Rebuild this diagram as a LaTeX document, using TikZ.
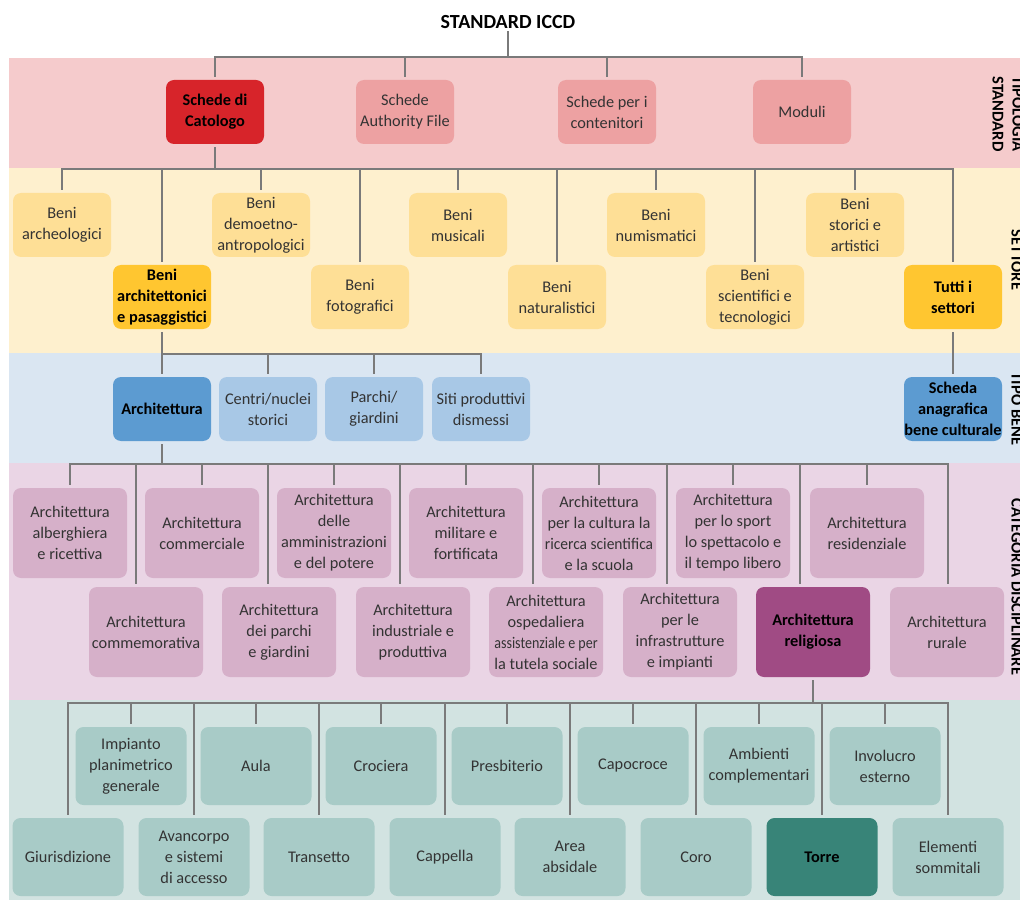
\documentclass[tikz,border=0pt]{standalone}
\usepackage{fontspec}
\setmainfont{Carlito}
\usepackage{graphicx}
\usepackage{tikz}
\definecolor{ICCDLine}{HTML}{7A7A7A}
\definecolor{TipBand}{HTML}{F5CBCC}
\definecolor{TipBox}{HTML}{EDA1A2}
\definecolor{TipKey}{HTML}{D7242A}
\definecolor{SetBand}{HTML}{FEF0CE}
\definecolor{SetBox}{HTML}{FEDF96}
\definecolor{SetKey}{HTML}{FFC630}
\definecolor{BenBand}{HTML}{DAE6F2}
\definecolor{BenBox}{HTML}{A8C8E6}
\definecolor{BenKey}{HTML}{5C9BD1}
\definecolor{CatBand}{HTML}{EAD5E5}
\definecolor{CatBox}{HTML}{D6B0C9}
\definecolor{CatKey}{HTML}{A04B84}
\definecolor{ElmBand}{HTML}{D2E3E1}
\definecolor{ElmBox}{HTML}{A8CBC7}
\definecolor{ElmKey}{HTML}{388478}

\begin{document}
\begin{tikzpicture}[x=1pt,y=-1pt,
  box/.style={rounded corners=8pt,align=center,inner sep=0pt,
    font=\fontsize{16.3}{21}\selectfont,text=black!80},
  key/.style={font=\fontsize{16.3}{21}\selectfont\bfseries,text=black},
  small/.style={box,minimum width=98pt,minimum height=64pt},
  wide/.style={box,minimum width=114pt,minimum height=90pt},
  leaf/.style={box,minimum width=111pt,minimum height=78pt},
  conn/.style={draw=ICCDLine,line width=2.2pt,line cap=rect},
  drop/.style={conn,shorten >=4pt},
  rise/.style={conn,shorten <=4pt},
  side/.style={rotate=-90,align=center,text=black,
    font=\fontsize{16.5}{20}\selectfont\bfseries}]
  \useasboundingbox (0,0) rectangle (1020,901);
  \clip (0,0) rectangle (1020,901);

  % bands
  \fill[TipBand] (9,58) rectangle (1020,168);
  \fill[SetBand] (9,168) rectangle (1020,353);
  \fill[BenBand] (9,353) rectangle (1020,463);
  \fill[CatBand] (9,463) rectangle (1020,700);
  \fill[ElmBand] (9,700) rectangle (1020,900);

  \node[side] (lt) at (1008,114) {TIPOLOGIA\\STANDARD};
  \node[side] (ls) at (1017,260) {SETTORE};
  \node[side] (lb) at (1017,409) {TIPO BENE};
  \node[side] (lc) at (1017,587) {CATEGORIA DISCIPLINARE};

  \coordinate (b1) at (0,57);
  \coordinate (b2) at (0,169);
  \coordinate (b3) at (0,354);
  \coordinate (b4) at (0,464);
  \coordinate (b5) at (0,703);

  \node[font=\fontsize{20}{24}\selectfont\bfseries] (ttl) at (508,22) {STANDARD ICCD};

  % tipologia standard
  \node[small,key,fill=TipKey] (cat) at (215,112) {Schede di\\Catologo};
  \node[small,fill=TipBox] (aut) at (405,112) {Schede\\Authority File};
  \node[small,fill=TipBox] (cnt) at (607,112) {Schede per i\\contenitori};
  \node[small,fill=TipBox] (mod) at (802,112) {Moduli};

  \draw[conn] (ttl) -- (ttl |- b1);
  \draw[conn] (cat |- b1) -- (mod |- b1);
  \foreach \n in {cat,aut,cnt,mod}
    \draw[drop] (\n |- b1) -- (\n);

  % settore
  \node[small,fill=SetBox] (arc) at (62,225) {Beni\\archeologici};
  \node[small,fill=SetBox] (dem) at (261,225) {Beni\\demoetno-\\antropologici};
  \node[small,fill=SetBox] (mus) at (458,225) {Beni\\musicali};
  \node[small,fill=SetBox] (num) at (656,225) {Beni\\numismatici};
  \node[small,fill=SetBox] (sto) at (855,225) {Beni\\storici e\\artistici};
  \node[small,key,fill=SetKey] (bea) at (162,297) {Beni\\architettonici\\e pasaggistici};
  \node[small,fill=SetBox] (fot) at (360,297) {Beni\\fotografici};
  \node[small,fill=SetBox] (nat) at (557,297) {Beni\\naturalistici};
  \node[small,fill=SetBox] (sci) at (755,297) {Beni\\scientifici e\\tecnologici};
  \node[small,key,fill=SetKey] (tut) at (953,297) {Tutti i\\settori};

  \draw[rise] (cat) -- (cat |- b2);
  \draw[conn] (arc |- b2) -- (tut |- b2);
  \foreach \n in {arc,dem,mus,num,sto,bea,fot,nat,sci,tut}
    \draw[drop] (\n |- b2) -- (\n);

  % tipo bene
  \node[small,key,fill=BenKey] (arch) at (162,409) {Architettura};
  \node[small,fill=BenBox] (cen) at (268,409) {Centri/nuclei\\storici};
  \node[small,fill=BenBox] (par) at (374,409) {Parchi/\\giardini};
  \node[small,fill=BenBox] (sit) at (481,409) {Siti produttivi\\dismessi};
  \node[small,key,fill=BenKey] (sch) at (953,409) {Scheda\\anagrafica\\bene culturale};

  \draw[rise,drop] (bea) -- (arch);
  \draw[conn] (bea |- b3) -- (sit |- b3);
  \foreach \n in {cen,par,sit}
    \draw[drop] (\n |- b3) -- (\n);
  \draw[rise,drop] (tut) -- (sch);

  % categoria disciplinare
  \node[wide,fill=CatBox] (alb) at (70,533) {Architettura\\alberghiera\\e ricettiva};
  \node[wide,fill=CatBox] (cmm) at (202,533) {Architettura\\commerciale};
  \node[wide,fill=CatBox] (amm) at (334,533) {Architettura\\delle\\amministrazioni\\e del potere};
  \node[wide,fill=CatBox] (mil) at (466,533) {Architettura\\militare e\\fortificata};
  \node[wide,fill=CatBox] (cul) at (599,533) {Architettura\\per la cultura la\\\scalebox{0.95}[1]{ricerca scientifica}\\e la scuola};
  \node[wide,fill=CatBox] (spo) at (733,533) {Architettura\\per lo sport\\lo spettacolo e\\il tempo libero};
  \node[wide,fill=CatBox] (res) at (867,533) {Architettura\\residenziale};
  \node[wide,fill=CatBox] (cme) at (146,632) {Architettura\\commemorativa};
  \node[wide,fill=CatBox] (pgi) at (279,632) {Architettura\\dei parchi\\e giardini};
  \node[wide,fill=CatBox] (ind) at (413,632) {Architettura\\industriale e\\produttiva};
  \node[wide,fill=CatBox] (osp) at (546,632) {Architettura\\ospedaliera\\\scalebox{0.86}[1]{assistenziale e per}\\la tutela sociale};
  \node[wide,fill=CatBox] (inf) at (680,632) {Architettura\\per le\\infrastrutture\\e impianti};
  \node[wide,key,fill=CatKey] (rel) at (813,632) {Architettura\\religiosa};
  \node[wide,fill=CatBox] (rur) at (947,632) {Architettura\\rurale};

  \draw[rise] (arch) -- (arch |- b4);
  \draw[conn] (alb |- b4) -- (rur |- b4);
  \foreach \n in {alb,cmm,amm,mil,cul,spo,res}
    \draw[drop] (\n |- b4) -- (\n);
  \foreach \n/\x in {cme/136,pgi/268,ind/400,osp/533,inf/667,rel/800,rur/948}{
    \coordinate (t\n) at (\x,464);
    \draw[drop] (t\n) -- (t\n |- \n.north);
  }

  % elementi
  \node[leaf,fill=ElmBox] (imp) at (131,766) {Impianto\\planimetrico\\generale};
  \node[leaf,fill=ElmBox] (aul) at (256,766) {Aula};
  \node[leaf,fill=ElmBox] (cro) at (381,766) {Crociera};
  \node[leaf,fill=ElmBox] (pre) at (507,766) {Presbiterio};
  \node[leaf,fill=ElmBox] (cpc) at (633,766) {Capocroce};
  \node[leaf,fill=ElmBox] (amb) at (759,766) {Ambienti\\complementari};
  \node[leaf,fill=ElmBox] (inv) at (885,766) {Involucro\\esterno};
  \node[leaf,fill=ElmBox] (giu) at (68,857) {Giurisdizione};
  \node[leaf,fill=ElmBox] (ava) at (194,857) {Avancorpo\\e sistemi\\di accesso};
  \node[leaf,fill=ElmBox] (tra) at (319,857) {Transetto};
  \node[leaf,fill=ElmBox] (cpl) at (445,857) {Cappella};
  \node[leaf,fill=ElmBox] (are) at (570,857) {Area\\absidale};
  \node[leaf,fill=ElmBox] (cor) at (696,857) {Coro};
  \node[leaf,key,fill=ElmKey] (tor) at (822,857) {Torre};
  \node[leaf,fill=ElmBox] (ele) at (948,857) {Elementi\\sommitali};

  \draw[rise] (rel) -- (rel |- b5);
  \draw[conn] (giu |- b5) -- (ele |- b5);
  \foreach \n in {imp,aul,cro,pre,cpc,amb,inv,giu,ava,tra,cpl,are,cor,tor,ele}
    \draw[drop] (\n |- b5) -- (\n);
\end{tikzpicture}
\end{document}
